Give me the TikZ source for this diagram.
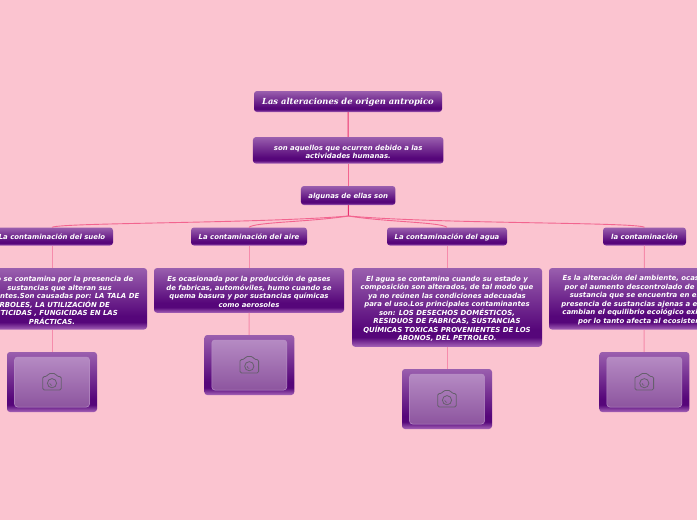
\documentclass[tikz,border=0pt]{standalone}
\usepackage{xcolor}
\usepackage{fontspec}
\usepackage{tikz}

\newfontfamily\boxfont{DejaVu Sans}
\newfontfamily\titlefont{DejaVu Serif}

\definecolor{fondo}{HTML}{FBC4D0}
\definecolor{lila}{HTML}{9A5FAE}
\definecolor{morado}{HTML}{56067A}
\definecolor{borde}{HTML}{A664B8}
\definecolor{enlace}{HTML}{F2648F}
\definecolor{enlacefuerte}{HTML}{E8306F}
\definecolor{icono}{HTML}{665F6D}
\definecolor{marcoborde}{HTML}{B88FC6}
\definecolor{marcoalto}{HTML}{B58AC3}
\definecolor{marcobajo}{HTML}{8D559F}

\pgfdeclareverticalshading{cajamorada}{100bp}{
    color(0bp)=(borde); color(25bp)=(borde); color(31bp)=(morado);
    color(36bp)=(morado); color(75bp)=(lila); color(100bp)=(lila)}

\newcommand{\arriba}{\rule[-2pt]{0pt}{10.3pt}}

\tikzset{
    caja/.style={shading=cajamorada, rounded corners=3pt, inner sep=0pt, text=white,
        align=center, font=\boxfont\bfseries\itshape\fontsize{6.93}{8.5}\selectfont},
    rama/.style={draw=enlace, line width=0.9pt},
    tronco/.style={draw=enlacefuerte, line width=1pt},
    marco/.style={rounded corners=3pt, draw=marcoborde, line width=0.5pt,
        top color=marcoalto, bottom color=marcobajo, minimum width=75pt, minimum height=50pt},
    camara/.pic={
        \draw[icono, line width=0.8pt, rounded corners=1.5pt]
            (-9.3,8) -- (-9.3,-5.5) -- (-5,-5.5) -- (-3.5,-8.5) -- (3.5,-8.5) -- (5,-5.5) -- (9.3,-5.5) -- (9.3,8) -- cycle;
        \draw[icono, line width=0.8pt] (0,1.2) circle (4.6pt);
        \draw[icono, line width=0.6pt] (-2.2,1.2) arc (180:270:2.2pt);
    }
}

\begin{document}
\begin{tikzpicture}[x=1pt, y=-1pt]

    % Fondo
    \fill[fondo] (0,0) rectangle (697,520);
    \useasboundingbox (0,0) rectangle (697,520);
    \clip (0,0) rectangle (697,520);

    % Centro
    \node[caja, minimum width=188pt, minimum height=21pt, font=\titlefont\bfseries\itshape\fontsize{8.35}{12}\selectfont] (titulo) at (348,101.5) {\arriba Las alteraciones de origen antropico};
    \node[caja, minimum width=190.5pt, minimum height=26.5pt] (definicion) at (348.2,150.3) {\arriba son aquellos que ocurren debido a las\\actividades humanas.};
    \node[caja, minimum width=94.5pt, minimum height=19pt] (algunas) at (348.2,195.5) {\arriba algunas de ellas son};
    \coordinate (centro) at (348.5,216);

    % Tipos de contaminacion
    \node[caja, minimum width=122pt, minimum height=18pt] (suelo) at (52,236.5) {\arriba La contaminación del suelo};
    \node[caja, minimum width=116pt, minimum height=18pt] (aire) at (249,236.5) {\arriba La contaminación del aire};
    \node[caja, minimum width=120pt, minimum height=18pt] (agua) at (447,236.5) {\arriba La contaminación del agua};
    \node[caja, minimum width=83pt, minimum height=18pt] (tipo) at (644.5,236.5) {\arriba la contaminación};

    % Textos
    \node[caja, minimum width=190pt, minimum height=61.5pt] (textosuelo) at (52,298.8) {\arriba El suelo se contamina por la presencia de\\\hspace*{15pt}sustancias que alteran sus\\componentes.Son causadas por: LA TALA DE\\ÁRBOLES, LA UTILIZACIÓN DE\\PESTICIDAS , FUNGICIDAS EN LAS\\PRÁCTICAS.};
    \node[caja, minimum width=190pt, minimum height=44.7pt] (textoaire) at (249,290.4) {\arriba Es ocasionada por la producción de gases\\de fabricas, automóviles, humo cuando se\\quema basura y por sustancias químicas\\como aerosoles};
    \node[caja, minimum width=190pt, minimum height=78.7pt] (textoagua) at (447,307.4) {\arriba El agua se contamina cuando su estado y\\composición son alterados, de tal modo que\\ya no reúnen las condiciones adecuadas\\para el uso.Los principales contaminantes\\son: LOS DESECHOS DOMÉSTICOS,\\RESIDUOS DE FABRICAS, SUSTANCIAS\\QUÍMICAS TOXICAS PROVENIENTES DE LOS\\ABONOS, DEL PETROLEO.};
    \node[caja, minimum width=190pt, minimum height=61.5pt] (textotipo) at (644,298.8) {\arriba Es la alteración del ambiente, ocasionada\\por el aumento descontrolado de alguna\\sustancia que se encuentra en el, o la\hspace*{18pt}\\presencia de sustancias ajenas a este que\hspace*{-7pt}\\cambian el equilibrio ecológico existente,\\por lo tanto afecta al ecosistema.};

    % Imagenes
    \foreach \nombre/\x/\y in {suelo/52/382, aire/249.3/365, agua/447/399, tipo/644.3/382} {
        \node[caja, minimum width=90pt, minimum height=60pt] (foto\nombre) at (\x,\y) {};
        \node[marco] at (\x,\y) {};
        \pic at (\x,\y) {camara};
        \draw[rama, draw=enlace!75!white, line width=1pt] (texto\nombre) -- (foto\nombre);
        \draw[rama, draw=enlace!75!white, line width=1pt] (\nombre) -- (texto\nombre);
    }

    % Lineas
    \draw[tronco] (titulo) -- (definicion);
    \draw[rama, line width=1pt] (definicion) -- (algunas);
    \draw[tronco] (algunas) -- (centro);
    \draw[rama] (centro) .. controls (260,223.5) and (62,222.5) .. (suelo.north);
    \draw[rama] (centro) .. controls (310,222) and (255,222) .. (aire.north);
    \draw[rama] (centro) .. controls (385,222) and (440,222) .. (agua.north);
    \draw[rama] (centro) .. controls (440,224) and (636,222) .. (tipo.north);

\end{tikzpicture}
\end{document}
